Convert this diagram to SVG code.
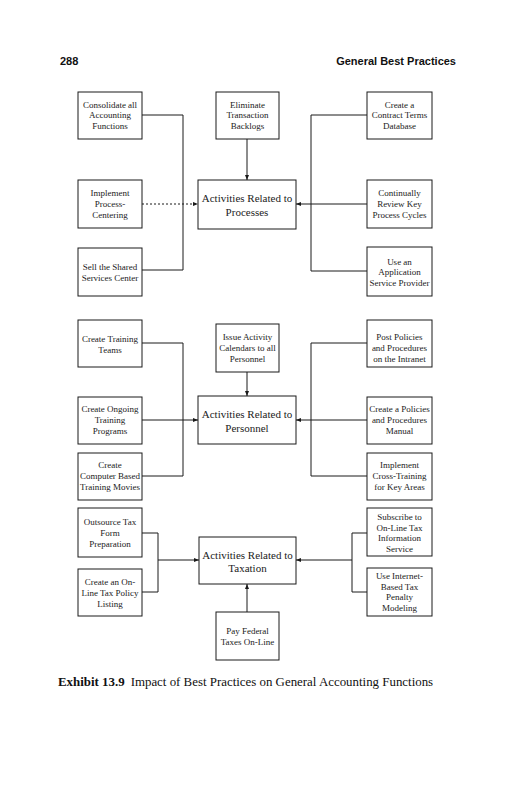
<svg xmlns="http://www.w3.org/2000/svg" width="531" height="800" viewBox="0 0 531 800">
<style>
.bg{fill:#fff}
.box rect{fill:#fff;stroke:#1a1a1a;stroke-width:1}
.box text{font-family:"Liberation Serif","Times New Roman",serif;font-size:9px;fill:#222;text-anchor:middle}
.hub text{font-size:11px}
.conn path{fill:none;stroke:#1a1a1a;stroke-width:1}
.conn .dot{stroke-dasharray:2 2}
.hdr{font-family:"Liberation Sans",Arial,sans-serif;font-weight:bold;font-size:11px;fill:#111}
.cap{font-family:"Liberation Serif","Times New Roman",serif;font-size:12.9px;fill:#111}
</style>
<defs>
<marker id="ah" viewBox="0 0 10 10" refX="10" refY="5" markerWidth="5" markerHeight="5" markerUnits="userSpaceOnUse" orient="auto"><path d="M0,1 L10,5 L0,9 z" fill="#1a1a1a"/></marker>
</defs>
<rect class="bg" x="0" y="0" width="531" height="800"/>
<text class="hdr" x="60" y="64.5">288</text>
<text class="hdr" x="456" y="64.5" text-anchor="end">General Best Practices</text>

<g class="conn" id="connectors">
<path d="M142,115 H183 V270 H142"/>
<path class="dot" d="M142,204 H198" marker-end="url(#ah)"/>
<path d="M247,139 V180" marker-end="url(#ah)"/>
<path d="M367,115 H311 V271 H367"/>
<path d="M367,204 H296" marker-end="url(#ah)"/>

<path d="M142,343 H183 V476 H142"/>
<path d="M142,420 H198" marker-end="url(#ah)"/>
<path d="M247,372 V396" marker-end="url(#ah)"/>
<path d="M367,343 H311 V476 H367"/>
<path d="M367,420 H296" marker-end="url(#ah)"/>

<path d="M142,533 H158 V592 H142"/>
<path d="M158,560 H199" marker-end="url(#ah)"/>
<path d="M367,533 H352 V592 H367"/>
<path d="M352,560 H296" marker-end="url(#ah)"/>
<path d="M247,612 V584" marker-end="url(#ah)"/>
</g>

<g class="box" id="consolidate"><rect x="78" y="92" width="64" height="47"/>
<text y="107.5"><tspan x="110">Consolidate all</tspan><tspan x="110" dy="10.8">Accounting</tspan><tspan x="110" dy="10.8">Functions</tspan></text></g>
<g class="box" id="eliminate"><rect x="216" y="92" width="63" height="47"/>
<text y="107.5"><tspan x="247.5">Eliminate</tspan><tspan x="247.5" dy="10.8">Transaction</tspan><tspan x="247.5" dy="10.8">Backlogs</tspan></text></g>
<g class="box" id="contract"><rect x="367" y="92" width="65" height="47"/>
<text y="107.5"><tspan x="399.5">Create a</tspan><tspan x="399.5" dy="10.8">Contract Terms</tspan><tspan x="399.5" dy="10.8">Database</tspan></text></g>

<g class="box" id="implement"><rect x="78" y="180" width="64" height="48"/>
<text y="196"><tspan x="110">Implement</tspan><tspan x="110" dy="10.8">Process-</tspan><tspan x="110" dy="10.8">Centering</tspan></text></g>
<g class="box hub" id="processes"><rect x="198" y="180" width="98" height="49"/>
<text y="202"><tspan x="247">Activities Related to</tspan><tspan x="247" dy="13.5">Processes</tspan></text></g>
<g class="box" id="review"><rect x="367" y="180" width="65" height="48"/>
<text y="196"><tspan x="399.5">Continually</tspan><tspan x="399.5" dy="10.8">Review Key</tspan><tspan x="399.5" dy="10.8">Process Cycles</tspan></text></g>

<g class="box" id="sell"><rect x="78" y="248" width="64" height="48"/>
<text y="270"><tspan x="110">Sell the Shared</tspan><tspan x="110" dy="10.8">Services Center</tspan></text></g>
<g class="box" id="asp"><rect x="367" y="247" width="65" height="49"/>
<text y="264.5"><tspan x="399.5">Use an</tspan><tspan x="399.5" dy="10.8">Application</tspan><tspan x="399.5" dy="10.8">Service Provider</tspan></text></g>

<g class="box" id="teams"><rect x="78" y="320" width="64" height="47"/>
<text y="342"><tspan x="110">Create Training</tspan><tspan x="110" dy="10.8">Teams</tspan></text></g>
<g class="box" id="calendars"><rect x="216" y="324" width="63" height="48"/>
<text y="340"><tspan x="247.5">Issue Activity</tspan><tspan x="247.5" dy="10.8">Calendars to all</tspan><tspan x="247.5" dy="10.8">Personnel</tspan></text></g>
<g class="box" id="intranet"><rect x="367" y="320" width="65" height="47"/>
<text y="340"><tspan x="399.5">Post Policies</tspan><tspan x="399.5" dy="10.8">and Procedures</tspan><tspan x="399.5" dy="10.8">on the Intranet</tspan></text></g>

<g class="box" id="ongoing"><rect x="78" y="397" width="64" height="47"/>
<text y="412"><tspan x="110">Create Ongoing</tspan><tspan x="110" dy="10.8">Training</tspan><tspan x="110" dy="10.8">Programs</tspan></text></g>
<g class="box hub" id="personnel"><rect x="198" y="396" width="98" height="48"/>
<text y="418"><tspan x="247">Activities Related to</tspan><tspan x="247" dy="13.5">Personnel</tspan></text></g>
<g class="box" id="manual"><rect x="367" y="397" width="65" height="47"/>
<text y="412"><tspan x="399.5">Create a Policies</tspan><tspan x="399.5" dy="10.8">and Procedures</tspan><tspan x="399.5" dy="10.8">Manual</tspan></text></g>

<g class="box" id="movies"><rect x="78" y="453" width="64" height="47"/>
<text y="468"><tspan x="110">Create</tspan><tspan x="110" dy="10.8">Computer Based</tspan><tspan x="110" dy="10.8">Training Movies</tspan></text></g>
<g class="box" id="crosstraining"><rect x="367" y="453" width="65" height="47"/>
<text y="468"><tspan x="399.5">Implement</tspan><tspan x="399.5" dy="10.8">Cross-Training</tspan><tspan x="399.5" dy="10.8">for Key Areas</tspan></text></g>

<g class="box" id="outsource"><rect x="78" y="508" width="64" height="49"/>
<text y="525"><tspan x="110">Outsource Tax</tspan><tspan x="110" dy="10.8">Form</tspan><tspan x="110" dy="10.8">Preparation</tspan></text></g>
<g class="box" id="policylisting"><rect x="78" y="569" width="64" height="47"/>
<text y="585"><tspan x="110">Create an On-</tspan><tspan x="110" dy="10.8">Line Tax Policy</tspan><tspan x="110" dy="10.8">Listing</tspan></text></g>
<g class="box hub" id="taxation"><rect x="199" y="537" width="97" height="47"/>
<text y="559"><tspan x="247.5">Activities Related to</tspan><tspan x="247.5" dy="12.5">Taxation</tspan></text></g>
<g class="box" id="subscribe"><rect x="367" y="508" width="65" height="48"/>
<text y="520"><tspan x="399.5">Subscribe to</tspan><tspan x="399.5" dy="10.5">On-Line Tax</tspan><tspan x="399.5" dy="10.5">Information</tspan><tspan x="399.5" dy="10.5">Service</tspan></text></g>
<g class="box" id="penalty"><rect x="367" y="568" width="65" height="48"/>
<text y="579"><tspan x="399.5">Use Internet-</tspan><tspan x="399.5" dy="10.5">Based Tax</tspan><tspan x="399.5" dy="10.5">Penalty</tspan><tspan x="399.5" dy="10.5">Modeling</tspan></text></g>
<g class="box" id="payfederal"><rect x="216" y="612" width="63" height="48"/>
<text y="634"><tspan x="247.5">Pay Federal</tspan><tspan x="247.5" dy="10.8">Taxes On-Line</tspan></text></g>

<text class="cap" x="58" y="686"><tspan font-weight="bold">Exhibit 13.9</tspan><tspan dx="6">Impact of Best Practices on General Accounting Functions</tspan></text>
</svg>
